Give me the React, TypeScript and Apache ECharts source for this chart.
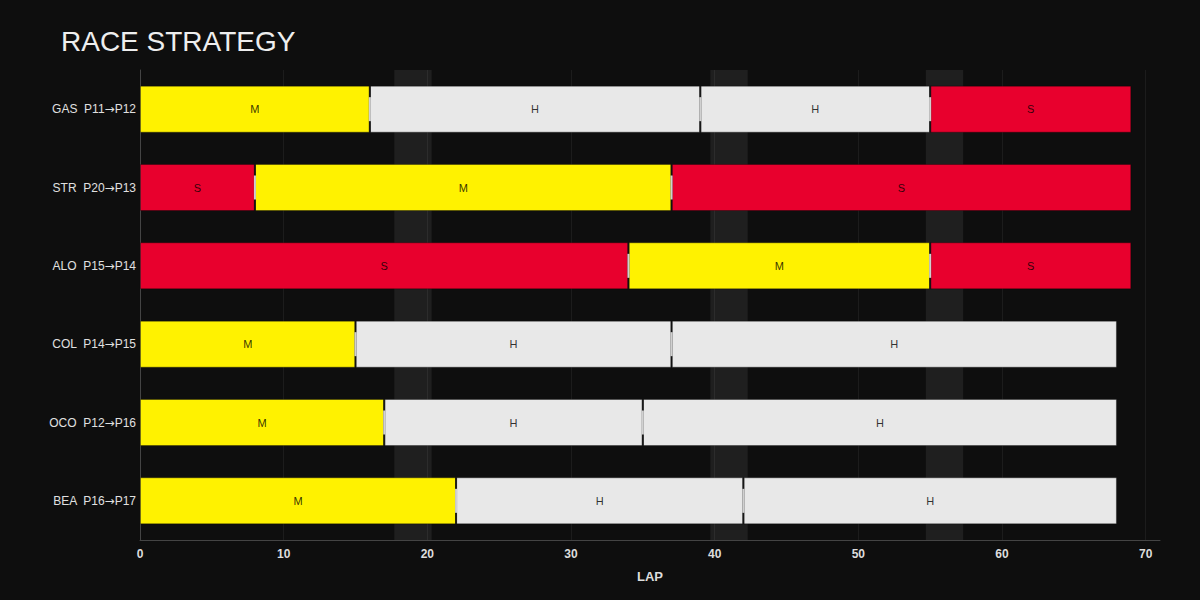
import { useEffect, useRef } from 'react';
import * as echarts from 'echarts';

// drivers, top to bottom
const driverCodes = ['GAS', 'STR', 'ALO', 'COL', 'OCO', 'BEA'];
const startPositions = ['P11', 'P20', 'P15', 'P14', 'P12', 'P16'];
const finishPositions = ['P12', 'P13', 'P14', 'P15', 'P16', 'P17'];

// compounds per stint and the lap each stint ends on
const stintCompounds = [
  ['M', 'H', 'H', 'S'],
  ['S', 'M', 'S'],
  ['S', 'M', 'S'],
  ['M', 'H', 'H'],
  ['M', 'H', 'H'],
  ['M', 'H', 'H'],
];
const stintEnds = [
  [16, 39, 55, 69],
  [8, 37, 69],
  [34, 55, 69],
  [15, 37, 68],
  [17, 35, 68],
  [22, 42, 68],
];

// neutralised periods (shaded bands), in laps
const neutralPeriods = [
  [17.7, 20.3],
  [39.7, 42.3],
  [54.7, 57.3],
];

const compoundColors: Record<string, string> = {
  S: '#e8002d',
  M: '#fff200',
  H: '#e8e8e8',
};

const FONT = '"Liberation Sans", Arial, sans-serif';

export default function App() {
  const chartRef = useRef<HTMLDivElement>(null);

  useEffect(() => {
    document.body.style.margin = '0';
    document.body.style.background = '#0e0e0e';
    if (!chartRef.current) return;
    const chart = echarts.init(chartRef.current, undefined, { renderer: 'svg' });

    const drivers = driverCodes.map((c, i) => `${c}  ${startPositions[i]}|${finishPositions[i]}`);
    const maxStints = Math.max(...stintEnds.map(s => s.length));

    // one stacked series per stint index
    const stintSeries: any[] = [];
    for (let k = 0; k < maxStints; k++) {
      stintSeries.push({
        type: 'bar',
        stack: 'race',
        barCategoryGap: '40%',
        z: 3,
        data: drivers.map((_, i) => {
          const ends = stintEnds[i];
          if (k >= ends.length) return '-';
          const start = k === 0 ? 0 : ends[k - 1];
          const compound = stintCompounds[i][k];
          return {
            value: ends[k] - start,
            compound,
            itemStyle: { color: compoundColors[compound] },
          };
        }),
        itemStyle: { borderColor: 'rgba(0,0,0,0.3)', borderWidth: 1 },
        label: {
          show: true,
          position: 'inside',
          formatter: (p: any) => p.data.compound,
          color: 'rgba(0,0,0,0.8)',
          fontSize: 11,
          fontFamily: FONT,
        },
      });
    }

    // pit stop markers at stint boundaries
    const pitStops: [number, number][] = [];
    stintEnds.forEach((ends, i) => {
      ends.slice(0, -1).forEach(lap => pitStops.push([lap, i]));
    });

    const option: echarts.EChartsOption = {
      animation: false,
      backgroundColor: '#0e0e0e',
      title: {
        text: 'RACE STRATEGY',
        left: 56,
        top: 22,
        textStyle: { color: '#eeeeee', fontSize: 28, fontWeight: 'normal', fontFamily: FONT },
      },
      grid: { left: 140, right: 40, top: 70, bottom: 60 },
      xAxis: {
        type: 'value',
        min: 0,
        max: 71,
        interval: 10,
        name: 'LAP',
        nameLocation: 'middle',
        nameGap: 30,
        nameTextStyle: { color: '#dddddd', fontSize: 13, fontWeight: 'bold', fontFamily: FONT },
        axisLine: { show: true, lineStyle: { color: '#444444' } },
        axisTick: { show: false },
        axisLabel: {
          color: '#dddddd',
          fontSize: 12,
          fontWeight: 'bold',
          fontFamily: FONT,
          margin: 8,
          showMaxLabel: false,
        },
        splitLine: { show: true, showMaxLine: false, lineStyle: { color: '#1c1c1c' } } as any,
      },
      yAxis: {
        type: 'category',
        data: drivers,
        inverse: true,
        axisLine: { show: true, lineStyle: { color: '#444444' } },
        axisTick: { show: false },
        axisLabel: {
          color: '#e0e0e0',
          fontSize: 12,
          fontFamily: FONT,
          margin: 4,
          formatter: (v: string) => {
            const [a, b] = v.split('|');
            return `${a}{arr|→}${b}`;
          },
          rich: {
            arr: { color: '#e0e0e0', fontSize: 12, fontFamily: '"DejaVu Sans", sans-serif' },
          },
        },
        splitLine: { show: false },
      },
      series: [
        {
          type: 'line',
          data: [],
          z: 1,
          silent: true,
          markArea: {
            silent: true,
            itemStyle: { color: 'rgba(255,255,255,0.07)' },
            data: neutralPeriods.map(([a, b]) => [{ xAxis: a }, { xAxis: b }]) as any,
          },
        },
        ...stintSeries,
        {
          type: 'scatter',
          data: pitStops,
          symbol: 'rect',
          symbolSize: [2, 47],
          itemStyle: { color: '#111111' },
          z: 4,
          silent: true,
        },
        {
          type: 'scatter',
          data: pitStops,
          symbol: 'rect',
          symbolSize: [2, 24],
          itemStyle: { color: '#ffffff' },
          z: 5,
          silent: true,
        },
      ],
    };

    chart.setOption(option);
    return () => chart.dispose();
  }, []);

  return <div ref={chartRef} style={{ width: 1200, height: 600 }} />;
}
